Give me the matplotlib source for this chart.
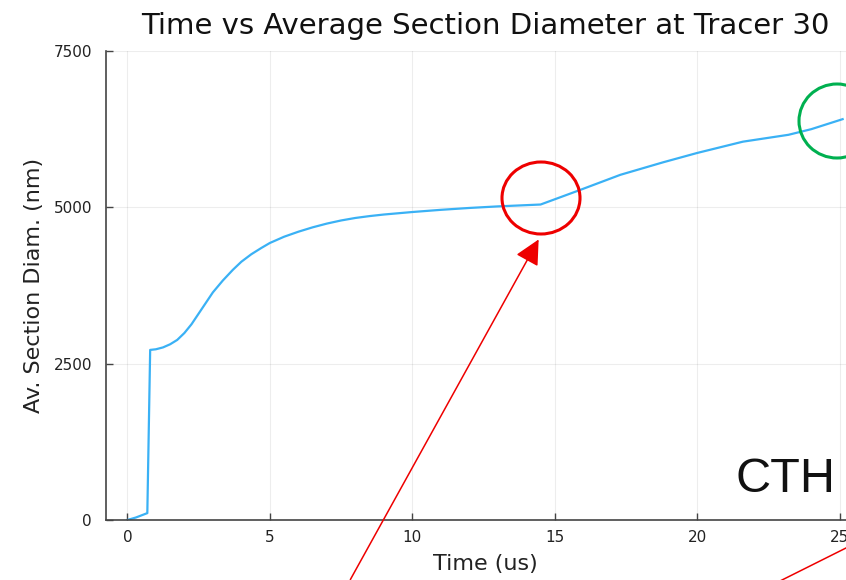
import matplotlib
matplotlib.use("Agg")
import matplotlib.pyplot as plt
from matplotlib.patches import Ellipse, FancyArrowPatch
from matplotlib.lines import Line2D

time_us = [0, 0.3, 0.7, 0.8, 1.0, 1.25, 1.5, 1.75, 2.0, 2.25, 2.5, 2.75, 3.0, 3.35,
           3.7, 4.0, 4.35, 4.7, 5.0, 5.5, 6.0, 6.5, 7.0, 7.5, 8.0, 8.5, 9.0, 10.0,
           11.0, 12.0, 13.0, 14.0, 14.5, 15.9, 17.3, 18.8, 20.0, 21.6, 23.2, 24.0, 25.1]
diam_nm = [0, 40, 110, 2720, 2730, 2760, 2810, 2880, 2990, 3130, 3300, 3470, 3640, 3830,
           4000, 4130, 4250, 4350, 4430, 4530, 4610, 4680, 4740, 4790, 4830, 4860, 4885, 4925,
           4960, 4990, 5015, 5035, 5045, 5280, 5520, 5720, 5870, 6050, 6160, 6250, 6410]
x_ticks = [0, 5, 10, 15, 20, 25]
y_ticks = [0, 2500, 5000, 7500]

W, H = 846, 580
fig = plt.figure(figsize=(W / 100, H / 100), dpi=100)
ax = fig.add_axes([106 / W, 60 / H, (864 - 106) / W, 469 / H])

ax.plot(time_us, diam_nm, color="#3ab1f5", lw=1.6)
ax.set_xlim(-0.75, 25.85)
ax.set_ylim(0, 7500)
ax.set_xticks(x_ticks)
ax.set_yticks(y_ticks)
ax.grid(True, color="#000000", alpha=0.07, lw=0.8)
for s in ["top", "right"]:
    ax.spines[s].set_visible(False)
for s in ["left", "bottom"]:
    ax.spines[s].set_color("#444444")
    ax.spines[s].set_linewidth(1.2)
ax.tick_params(direction="in", length=5, width=1, colors="#444444",
               labelcolor="#222222", labelsize=11)
ax.tick_params(axis="y", pad=10)
ax.tick_params(axis="x", pad=7)
ax.set_xlabel("Time (us)", fontsize=16, color="#222222", labelpad=7)
ax.set_ylabel("Av. Section Diam. (nm)", fontsize=16, color="#222222", labelpad=7)
ax.set_title("Time vs Average Section Diameter at Tracer 30", fontsize=21,
             color="#111111", pad=12)

# annotations (figure pixel coordinates)
def fx(px):
    return px / W

def fy(py):
    return 1 - py / H

fig.patches.append(Ellipse((fx(541), fy(198)), 78 / W, 72 / H, transform=fig.transFigure,
                           fill=False, ec="#ee0000", lw=2.2))
fig.patches.append(Ellipse((fx(837), fy(121)), 76 / W, 74 / H, transform=fig.transFigure,
                           fill=False, ec="#00b050", lw=2.2))
fig.patches.append(FancyArrowPatch((fx(349), fy(582)), (fx(540), fy(237)),
                                   transform=fig.transFigure, arrowstyle="-|>,head_length=7,head_width=3.5",
                                   color="#ee0000", lw=1.1, mutation_scale=2.2))
fig.lines.append(Line2D([fx(780), fx(848)], [fy(581), fy(547)], transform=fig.transFigure,
                        color="#ee0000", lw=1.1))
fig.text(fx(735), fy(492), "CTH", fontsize=35, family="Liberation Sans", color="#111111",
         ha="left", va="baseline")

fig.savefig("out.png", dpi=100)
